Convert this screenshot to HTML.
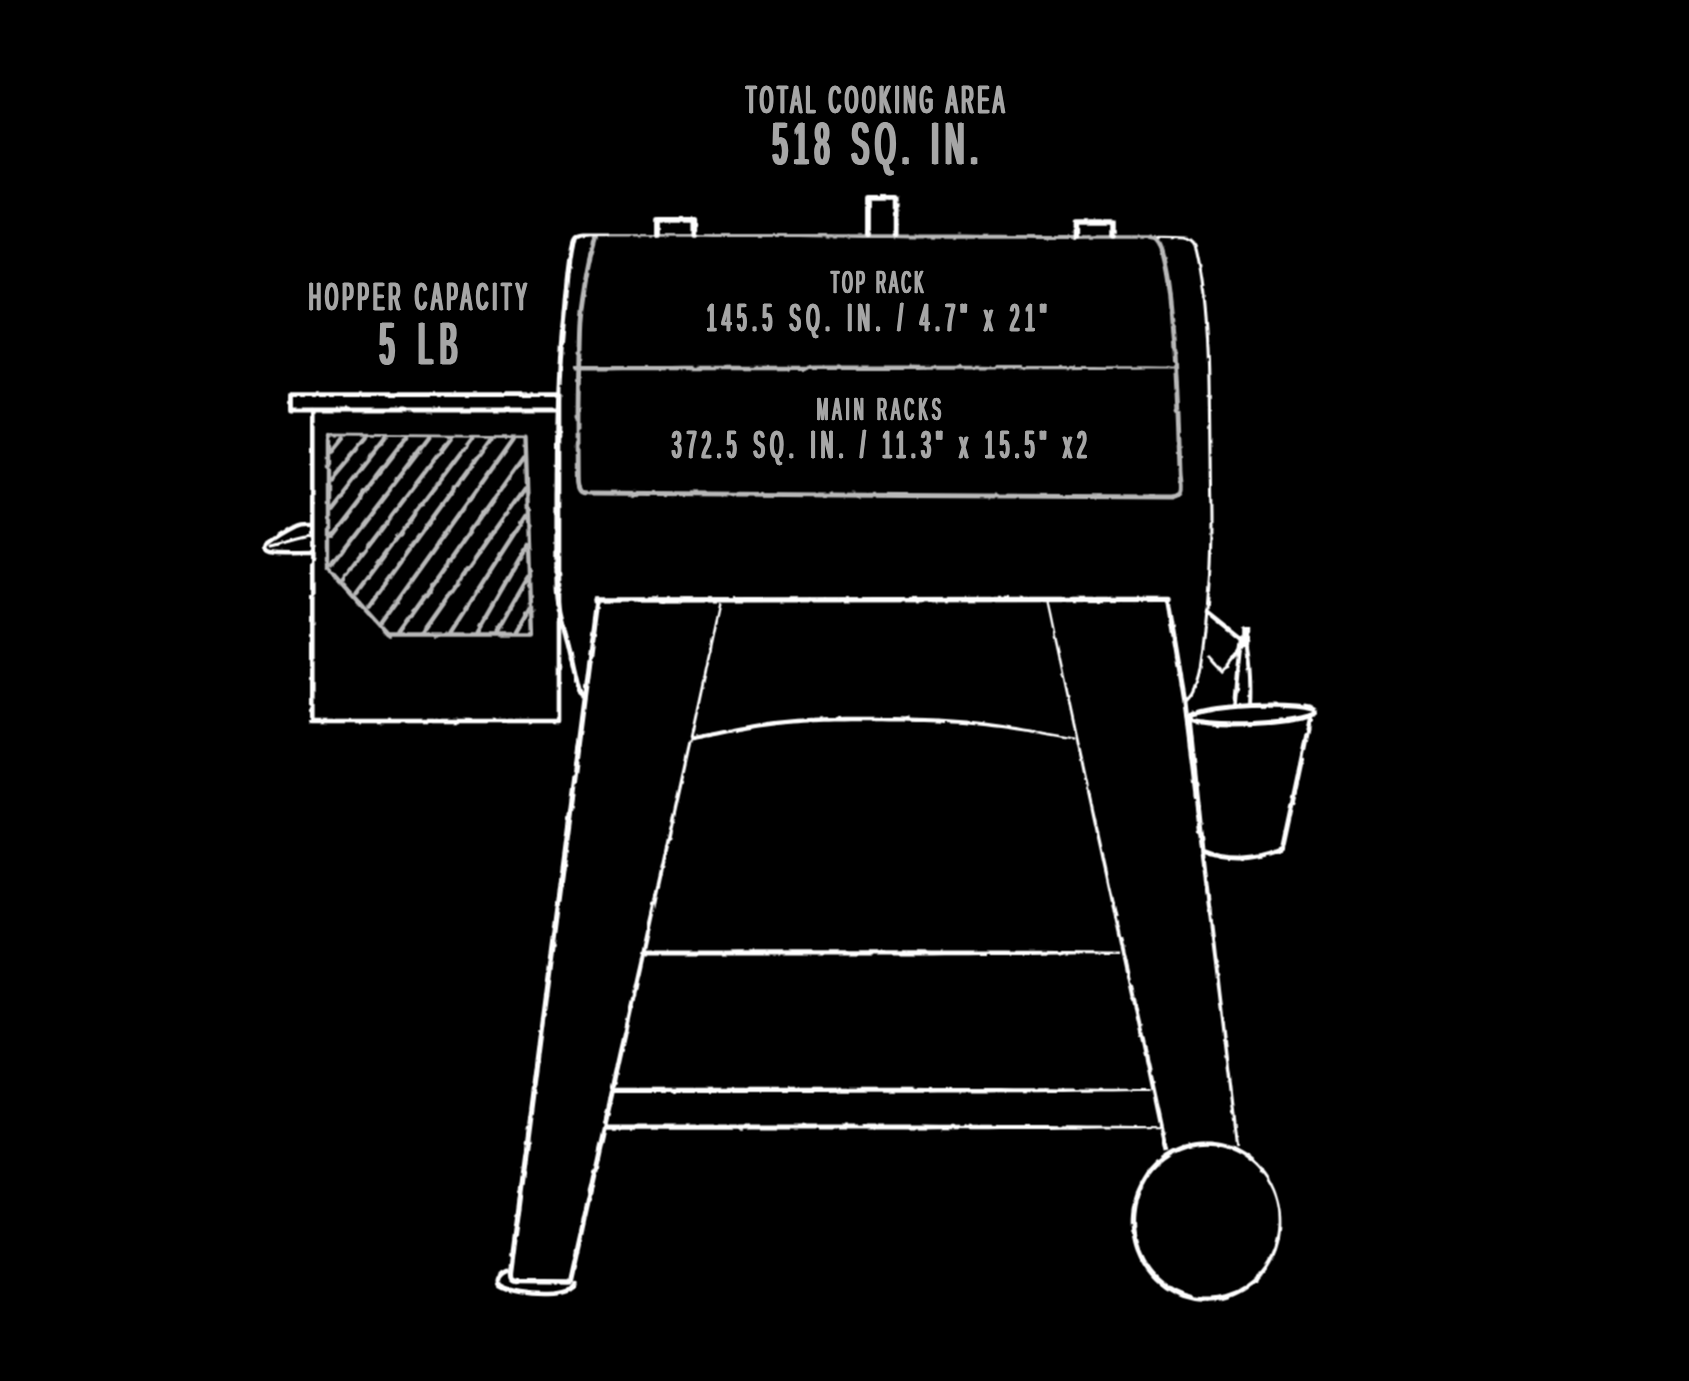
<!DOCTYPE html>
<html lang="en">
<head>
<meta charset="utf-8">
<title>Grill Dimensions</title>
<style>
html,body{margin:0;padding:0;background:#000;}
body{width:1689px;height:1381px;overflow:hidden;position:relative;}
svg{display:block;}
.t{position:absolute;white-space:nowrap;line-height:1;font-family:"Liberation Sans",sans-serif;font-weight:400;color:#a6a6a6;transform-origin:0 0;}
</style>
</head>
<body>
<svg width="1689" height="1381" viewBox="0 0 1689 1381">
<defs>
<filter id="rough" x="-2%" y="-2%" width="104%" height="104%" filterUnits="objectBoundingBox">
<feTurbulence type="fractalNoise" baseFrequency="0.05" numOctaves="2" seed="3" result="n1"/>
<feDisplacementMap in="SourceGraphic" in2="n1" scale="3.4" xChannelSelector="R" yChannelSelector="G" result="d1"/>
<feTurbulence type="fractalNoise" baseFrequency="0.14" numOctaves="1" seed="11" result="n2"/>
<feDisplacementMap in="d1" in2="n2" scale="2.6" xChannelSelector="G" yChannelSelector="R" result="d2"/>
<feConvolveMatrix in="d2" order="3" kernelMatrix="1 2 1 2 4 2 1 2 1" divisor="16" edgeMode="none" preserveAlpha="false"/>
</filter>
</defs>
<rect width="1689" height="1381" fill="#000"/>
<g fill="none" stroke-linecap="round" stroke-linejoin="round" filter="url(#rough)">
<!-- gray: cooking area outline -->
<g stroke="#b9b9b9">
<path fill="#b9b9b9" stroke="none" d="M606.0,236.5 L618.1,236.5 L630.2,236.6 L642.4,236.6 L654.5,236.7 L666.6,236.7 L678.7,236.7 L690.9,236.8 L703.0,236.8 L715.1,236.9 L727.2,236.9 L739.4,236.9 L751.5,237.0 L763.6,237.0 L775.7,237.1 L787.9,237.1 L800.0,237.1 L812.7,237.3 L825.4,237.4 L838.2,237.6 L850.9,237.7 L863.6,237.9 L876.4,238.0 L889.1,238.1 L901.8,238.3 L914.5,238.4 L927.3,238.6 L940.0,238.7 L952.0,238.7 L964.0,238.7 L976.0,238.8 L988.0,238.8 L1000.0,238.8 L1012.0,238.8 L1024.0,238.8 L1036.0,238.9 L1048.0,238.9 L1060.0,238.9 L1073.1,238.9 L1086.3,238.8 L1099.4,238.8 L1112.6,238.8 L1125.7,238.8 L1138.9,238.7 L1152.0,238.7 L1152.0,235.3 L1138.9,235.3 L1125.7,235.2 L1112.6,235.2 L1099.4,235.2 L1086.3,235.2 L1073.1,235.1 L1060.0,235.1 L1048.0,235.0 L1036.0,235.0 L1024.0,234.9 L1012.0,234.9 L1000.0,234.8 L988.0,234.7 L976.0,234.7 L964.0,234.6 L952.0,234.6 L940.0,234.5 L927.3,234.5 L914.6,234.4 L901.8,234.4 L889.1,234.3 L876.4,234.3 L863.6,234.3 L850.9,234.2 L838.2,234.2 L825.5,234.1 L812.7,234.1 L800.0,234.1 L787.9,234.0 L775.8,234.0 L763.6,234.0 L751.5,234.0 L739.4,234.0 L727.3,234.0 L715.1,234.0 L703.0,234.0 L690.9,234.0 L678.8,234.0 L666.6,233.9 L654.5,233.9 L642.4,233.9 L630.3,233.9 L618.1,233.9 L606.0,233.9 Z"/>
<path stroke-width="4.8" d="M1150.0,237.0 C1151.0,237.2 1154.2,236.8 1156.0,238.5 C1157.8,240.2 1159.1,241.0 1161.0,247.0 C1162.9,253.0 1165.8,265.0 1167.6,274.7 C1169.3,284.4 1170.4,294.1 1171.5,305.0 C1172.6,315.9 1173.6,329.7 1174.3,340.0 C1175.0,350.3 1175.2,357.0 1175.7,367.0 C1176.2,377.0 1176.9,391.5 1177.3,400.0 C1177.7,408.5 1177.8,406.3 1178.2,418.0 C1178.7,429.7 1179.5,458.7 1180.0,470.0 C1180.5,481.3 1181.3,482.1 1181.3,486.0 C1181.3,489.9 1181.5,491.7 1180.0,493.5 C1178.5,495.3 1173.3,496.4 1172.0,497.0 L900,495.5 L590,493  C588.7,492.8 583.9,493.0 582.0,491.5 C580.1,490.0 579.4,487.6 578.8,484.0 C578.2,480.4 578.4,480.7 578.3,470.0 C578.2,459.3 578.0,435.0 578.0,420.0 C578.0,405.0 578.2,396.3 578.5,380.0 C578.8,363.7 579.1,337.0 580.0,322.0 C580.9,307.0 582.5,300.0 584.0,290.0 C585.5,280.0 587.1,270.8 589.0,262.0 C590.9,253.2 594.4,241.5 595.5,237.4"/>
<path fill="#b9b9b9" stroke="none" d="M573.0,370.4 L585.3,370.4 L597.6,370.4 L609.8,370.4 L622.1,370.3 L634.4,370.3 L646.7,370.3 L659.0,370.3 L671.2,370.3 L683.5,370.3 L695.8,370.3 L708.1,370.2 L720.4,370.2 L732.6,370.2 L744.9,370.2 L757.2,370.2 L769.5,370.2 L781.8,370.2 L794.0,370.1 L806.3,370.1 L818.6,370.1 L830.9,370.1 L843.2,370.1 L855.4,370.1 L867.7,370.1 L880.0,370.0 L892.5,370.0 L905.0,369.9 L917.5,369.9 L930.0,369.8 L942.5,369.8 L955.0,369.7 L967.5,369.6 L980.0,369.6 L992.5,369.5 L1005.0,369.5 L1017.5,369.4 L1030.0,369.3 L1042.5,369.3 L1055.0,369.2 L1067.5,369.2 L1080.0,369.1 L1093.6,369.0 L1107.1,368.9 L1120.7,368.8 L1134.3,368.7 L1147.9,368.6 L1161.4,368.5 L1175.0,368.4 L1175.0,366.4 L1161.4,366.4 L1147.9,366.3 L1134.3,366.3 L1120.7,366.2 L1107.1,366.2 L1093.6,366.1 L1080.0,366.1 L1067.5,366.1 L1055.0,366.0 L1042.5,366.0 L1030.0,366.0 L1017.5,365.9 L1005.0,365.9 L992.5,365.9 L980.0,365.8 L967.5,365.8 L955.0,365.8 L942.5,365.7 L930.0,365.7 L917.5,365.7 L905.0,365.6 L892.5,365.6 L880.0,365.6 L867.7,365.6 L855.4,365.6 L843.2,365.6 L830.9,365.6 L818.6,365.6 L806.3,365.7 L794.0,365.7 L781.8,365.7 L769.5,365.7 L757.2,365.7 L744.9,365.7 L732.6,365.8 L720.4,365.8 L708.1,365.8 L695.8,365.8 L683.5,365.8 L671.2,365.9 L659.0,365.9 L646.7,365.9 L634.4,365.9 L622.1,365.9 L609.8,365.9 L597.6,366.0 L585.3,366.0 L573.0,366.0 Z"/>
<path stroke-width="2.8" d="M328,435 L525.5,436.8"/><path stroke-width="4.4" d="M525.5,436.8 L531.9,634.5 L387.7,634.5 L328,568.4 L328,435"/>
<path stroke-width="4.5" d="M330.4,451.3 L340.7,438.5 M331.2,478.4 L364.6,438.5 M330.4,507.8 L384.5,438.5 M331.2,534.9 L406.0,438.5 M331.9,565.2 L429.1,438.5 M343.1,579.5 L450.6,438.5 M355.8,593.1 L472.1,438.5 M368.6,606.6 L491.3,438.5 M382.1,622.5 L513.6,438.5 M399.7,632.1 L523.9,457.7 M423.5,632.1 L524.7,488.7 M450.6,632.1 L525.5,515.8 M476.9,632.1 L527.1,545.3 M496.8,632.1 L527.9,577.9 M515.9,632.1 L529.5,609.0 "/>
</g>
<g stroke="#ffffff">
<path stroke-width="4.8" d="M558,394.7 L290.5,394.7 L290.5,410 L558,410"/>
<path stroke-width="4.6" d="M312.3,410 L312.3,721 L559,721 L559,394"/>
<path stroke-width="4.4" d="M311,524 C304,523.5 300,524 296,526 C288,530 276,537 268,543 C264,546 264,550 270,552 C282,554 296,553 311,553"/>
<path stroke-width="3" d="M271,546 C284,543 298,538 311,535.5"/>
<path stroke-width="5.7" d="M657,235 L657,219.8 L694.3,219.8 L694.3,235"/>
<path stroke-width="5.8" d="M868,234 L868,197.8 L895.7,197.8 L895.7,234"/>
<path stroke-width="5.5" d="M1076.4,236 L1076.4,222 L1113,222 L1113,236"/>
<path stroke-width="3.1" d="M1158.0,237.3 C1160.8,237.4 1170.2,237.4 1175.0,237.6 C1179.8,237.8 1184.0,237.5 1187.0,238.2 C1190.0,238.9 1191.4,240.0 1193.0,242.0 C1194.6,244.0 1195.0,243.8 1196.5,250.0 C1198.0,256.2 1200.6,270.3 1202.0,279.5 C1203.4,288.7 1204.1,294.9 1205.0,305.0 C1205.9,315.1 1206.9,327.3 1207.6,340.0 C1208.3,352.7 1208.7,367.7 1209.0,381.0 C1209.3,394.3 1209.4,405.2 1209.6,420.0 C1209.8,434.8 1210.0,453.3 1210.2,470.0 C1210.4,486.7 1211.0,505.0 1211.0,520.0 C1211.0,535.0 1210.6,548.3 1210.2,560.0 C1209.8,571.7 1209.2,579.6 1208.5,590.0 C1207.8,600.4 1207.1,609.9 1205.8,622.6 C1204.5,635.3 1202.0,655.9 1200.4,666.0 C1198.8,676.1 1197.5,678.5 1196.0,683.0 C1194.5,687.5 1193.5,690.2 1191.7,693.2 C1189.9,696.2 1186.3,699.5 1185.2,700.8"/>
<path stroke-width="5.4" d="M596,600 L1169,599.4"/>
<path stroke-width="5.3" d="M598,600 L510.4,1274 C510.5,1279 512,1281 516,1281.5 L569,1282"/>
<path stroke-width="4.6" d="M506.5,1271 C499,1274 496,1280 499,1285 C508,1291 530,1294.5 548,1294 C562,1293.5 572,1290 574.5,1283"/>
<path stroke-width="4.6" d="M1206.9,611.7 L1240.6,638.9"/>
<path stroke-width="8" stroke-linecap="butt" d="M1245.2,626 L1245.2,647"/>
<path stroke-width="4.6" d="M1241,640 C1238,660 1236,685 1234.5,705"/>
<path stroke-width="4" d="M1247,648 C1250,665 1251,690 1250,705"/>
<path stroke-width="5" d="M1189.5,722 L1203,851 C1215,856 1230,858.5 1242,858 C1258,857 1272,853 1282.5,848 L1310,720"/>
<path fill="#fff" fill-rule="evenodd" stroke="none" d="M608.0,233.5 L607.3,233.5 L606.6,233.5 L605.6,233.5 L604.6,233.5 L603.4,233.5 L602.2,233.5 L600.9,233.5 L599.6,233.4 L598.3,233.4 L596.9,233.4 L595.6,233.4 L594.3,233.4 L593.1,233.4 L592.0,233.5 L590.9,233.5 L589.9,233.5 L589.1,233.5 L588.3,233.5 L587.5,233.5 L586.8,233.5 L586.0,233.5 L585.4,233.5 L584.7,233.5 L584.1,233.5 L583.5,233.5 L582.9,233.6 L582.3,233.6 L581.7,233.7 L581.1,233.8 L580.6,233.8 L580.0,234.0 L579.4,234.1 L578.9,234.2 L578.4,234.3 L577.9,234.5 L577.4,234.6 L576.9,234.8 L576.5,235.0 L576.0,235.2 L575.6,235.4 L575.2,235.7 L574.7,235.9 L574.3,236.2 L573.9,236.6 L573.5,236.9 L573.2,237.3 L572.8,237.6 L572.5,238.0 L572.2,238.5 L571.9,238.9 L571.6,239.4 L571.4,239.8 L571.1,240.3 L570.9,240.8 L570.8,241.3 L570.6,241.8 L570.4,242.3 L570.3,242.8 L570.1,243.4 L570.0,243.9 L569.8,244.5 L569.7,245.1 L569.5,245.7 L569.4,246.4 L569.2,247.2 L569.0,247.9 L568.9,248.7 L568.7,249.5 L568.6,250.4 L568.4,251.3 L568.3,252.2 L568.1,253.1 L567.9,254.1 L567.8,255.1 L567.6,256.1 L567.5,257.1 L567.3,258.2 L567.1,259.3 L567.0,260.5 L566.8,261.6 L566.7,262.8 L566.5,264.0 L566.4,265.1 L566.2,266.3 L566.1,267.4 L565.9,268.6 L565.8,269.9 L565.6,271.1 L565.5,272.5 L565.3,273.9 L565.2,275.4 L565.0,277.0 L564.8,278.7 L564.6,280.4 L564.4,282.4 L564.2,284.4 L564.0,286.7 L563.7,289.1 L563.5,291.6 L563.2,294.4 L562.9,297.2 L562.6,300.1 L562.4,303.1 L562.1,306.2 L561.8,309.3 L561.5,312.4 L561.2,315.4 L560.9,318.5 L560.6,321.5 L560.4,324.3 L560.1,327.1 L559.9,329.8 L559.7,332.3 L559.5,334.7 L559.3,337.0 L559.2,339.3 L559.0,341.4 L558.8,343.6 L558.7,345.7 L558.6,347.8 L558.4,350.0 L558.3,352.2 L558.2,354.4 L558.0,356.7 L557.9,359.1 L557.8,361.5 L557.6,364.1 L557.5,366.9 L557.4,369.7 L557.2,372.6 L557.1,375.4 L556.9,378.4 L556.8,381.4 L556.7,384.4 L556.5,387.5 L556.4,390.7 L556.3,394.0 L556.2,397.4 L556.0,400.8 L555.9,404.4 L555.8,408.1 L555.7,411.9 L555.6,415.9 L555.5,419.9 L555.4,424.2 L555.3,428.7 L555.2,433.3 L555.2,438.1 L555.1,443.0 L555.0,448.0 L554.9,453.1 L554.9,458.3 L554.8,463.5 L554.8,468.8 L554.7,474.1 L554.7,479.3 L554.6,484.6 L554.6,489.8 L554.5,494.9 L554.5,500.0 L554.5,505.1 L554.4,510.4 L554.4,515.8 L554.4,521.3 L554.4,526.8 L554.3,532.4 L554.3,537.9 L554.3,543.4 L554.3,548.7 L554.3,554.0 L554.3,559.0 L554.3,563.8 L554.4,568.4 L554.4,572.6 L554.4,576.5 L554.5,580.0 L554.6,583.2 L554.6,586.0 L554.7,588.5 L554.8,590.7 L554.9,592.6 L555.1,594.3 L555.2,595.9 L555.3,597.3 L555.5,598.5 L555.6,599.7 L555.8,600.8 L555.9,601.9 L556.1,602.9 L556.2,604.0 L556.4,605.1 L556.5,606.3 L556.7,607.6 L556.8,608.7 L557.0,609.8 L557.1,610.8 L557.3,611.7 L557.4,612.6 L557.6,613.4 L557.7,614.3 L557.9,615.1 L558.1,616.0 L558.3,616.8 L558.5,617.8 L558.7,618.7 L559.0,619.8 L559.3,620.9 L559.6,622.2 L559.9,623.5 L560.2,624.9 L560.6,626.3 L561.0,627.8 L561.4,629.3 L561.8,630.8 L562.3,632.4 L562.7,634.0 L563.2,635.6 L563.6,637.3 L564.1,639.1 L564.6,640.9 L565.1,642.7 L565.6,644.6 L566.1,646.6 L566.6,648.6 L567.1,650.7 L567.6,653.1 L568.2,655.6 L568.8,658.2 L569.5,660.9 L570.1,663.7 L570.7,666.6 L571.4,669.4 L572.0,672.2 L572.6,674.9 L573.2,677.5 L573.8,680.0 L574.3,682.3 L574.9,684.4 L575.3,686.3 L575.8,688.0 L576.2,689.3 L576.6,690.5 L576.9,691.5 L577.2,692.4 L577.5,693.1 L577.8,693.7 L578.1,694.2 L578.4,694.7 L578.8,695.2 L579.1,695.5 L579.4,695.8 L579.7,695.9 L579.8,696.1 L579.9,696.1 L580.0,696.2 L580.2,696.5 L580.6,696.9 L581.0,697.3 L581.5,697.7 L581.9,698.0 L582.3,698.3 L582.8,698.6 L583.2,698.9 L583.6,699.1 L584.0,699.3 L584.4,699.5 L584.8,699.7 L585.1,699.9 L585.3,700.0 L585.6,700.1 L585.7,700.2 L585.9,700.3 L588.1,696.7 L587.9,696.6 L587.6,696.4 L587.4,696.3 L587.1,696.1 L586.8,695.9 L586.5,695.7 L586.2,695.5 L585.9,695.4 L585.5,695.1 L585.2,694.9 L584.9,694.7 L584.7,694.5 L584.4,694.3 L584.2,694.0 L584.0,693.8 L583.8,693.5 L583.4,693.1 L583.1,692.8 L582.8,692.5 L582.5,692.3 L582.4,692.2 L582.3,692.1 L582.3,692.1 L582.3,692.1 L582.2,691.9 L582.1,691.7 L582.0,691.3 L581.8,690.7 L581.5,690.0 L581.3,689.1 L581.0,688.0 L580.6,686.6 L580.2,685.1 L579.7,683.2 L579.2,681.1 L578.7,678.8 L578.1,676.4 L577.5,673.8 L576.9,671.0 L576.2,668.3 L575.6,665.5 L575.0,662.6 L574.3,659.8 L573.7,657.1 L573.1,654.5 L572.5,651.9 L572.0,649.6 L571.4,647.4 L570.9,645.4 L570.4,643.4 L569.9,641.5 L569.4,639.6 L568.9,637.8 L568.4,636.0 L568.0,634.3 L567.5,632.7 L567.1,631.0 L566.6,629.5 L566.2,628.0 L565.8,626.5 L565.5,625.1 L565.1,623.7 L564.8,622.3 L564.4,621.0 L564.1,619.8 L563.9,618.6 L563.6,617.6 L563.4,616.6 L563.2,615.7 L563.0,614.9 L562.8,614.1 L562.6,613.3 L562.5,612.5 L562.3,611.7 L562.2,610.9 L562.1,610.0 L561.9,609.1 L561.8,608.0 L561.6,606.9 L561.5,605.7 L561.3,604.4 L561.2,603.3 L561.0,602.2 L560.9,601.1 L560.7,600.1 L560.6,599.1 L560.4,598.0 L560.3,596.8 L560.2,595.5 L560.1,594.0 L559.9,592.3 L559.8,590.4 L559.7,588.3 L559.6,585.8 L559.6,583.1 L559.5,580.0 L559.4,576.4 L559.4,572.6 L559.4,568.3 L559.3,563.8 L559.3,559.0 L559.3,554.0 L559.3,548.7 L559.3,543.4 L559.3,537.9 L559.3,532.4 L559.4,526.8 L559.4,521.3 L559.4,515.8 L559.4,510.4 L559.5,505.1 L559.5,500.0 L559.5,495.0 L559.6,489.8 L559.6,484.6 L559.7,479.4 L559.7,474.1 L559.8,468.8 L559.8,463.6 L559.9,458.3 L559.9,453.2 L560.0,448.1 L560.1,443.0 L560.2,438.1 L560.2,433.4 L560.3,428.8 L560.4,424.3 L560.5,420.1 L560.6,416.0 L560.7,412.0 L560.8,408.2 L560.9,404.6 L561.0,401.0 L561.2,397.5 L561.3,394.2 L561.4,390.9 L561.5,387.7 L561.7,384.6 L561.8,381.6 L561.9,378.6 L562.1,375.7 L562.2,372.8 L562.4,369.9 L562.5,367.1 L562.6,364.4 L562.8,361.8 L562.9,359.3 L563.1,357.0 L563.2,354.7 L563.4,352.5 L563.5,350.3 L563.6,348.2 L563.8,346.1 L564.0,344.0 L564.1,341.8 L564.3,339.7 L564.5,337.4 L564.7,335.1 L564.9,332.7 L565.1,330.2 L565.3,327.6 L565.6,324.8 L565.8,321.9 L566.1,319.0 L566.4,315.9 L566.7,312.9 L567.0,309.8 L567.3,306.7 L567.6,303.7 L568.0,300.7 L568.3,297.7 L568.5,294.9 L568.8,292.2 L569.1,289.6 L569.4,287.2 L569.6,285.0 L569.8,282.9 L570.0,281.0 L570.2,279.2 L570.4,277.5 L570.5,276.0 L570.7,274.5 L570.9,273.1 L571.0,271.8 L571.1,270.5 L571.3,269.3 L571.4,268.1 L571.6,266.9 L571.7,265.8 L571.9,264.7 L572.0,263.5 L572.2,262.4 L572.3,261.2 L572.5,260.1 L572.6,259.0 L572.8,257.9 L573.0,256.9 L573.1,255.9 L573.3,254.9 L573.4,254.0 L573.6,253.1 L573.7,252.2 L573.9,251.4 L574.0,250.5 L574.2,249.8 L574.3,249.0 L574.5,248.3 L574.6,247.6 L574.8,246.9 L574.9,246.3 L575.0,245.7 L575.1,245.1 L575.2,244.6 L575.3,244.1 L575.4,243.7 L575.5,243.3 L575.6,242.9 L575.7,242.6 L575.9,242.3 L576.0,242.0 L576.1,241.7 L576.2,241.5 L576.4,241.2 L576.5,241.0 L576.7,240.7 L576.9,240.5 L577.0,240.2 L577.2,240.0 L577.4,239.8 L577.6,239.6 L577.8,239.4 L578.0,239.3 L578.2,239.1 L578.5,238.9 L578.8,238.8 L579.1,238.6 L579.4,238.4 L579.7,238.3 L580.1,238.1 L580.6,237.9 L581.0,237.8 L581.4,237.7 L581.8,237.5 L582.3,237.4 L582.8,237.3 L583.3,237.2 L583.8,237.2 L584.4,237.1 L585.0,237.0 L585.6,236.9 L586.2,236.9 L586.9,236.8 L587.6,236.7 L588.4,236.7 L589.2,236.6 L590.1,236.5 L591.0,236.5 L592.0,236.4 L593.2,236.4 L594.4,236.3 L595.7,236.3 L597.0,236.3 L598.3,236.3 L599.6,236.2 L600.9,236.2 L602.2,236.2 L603.4,236.2 L604.6,236.2 L605.6,236.1 L606.6,236.1 L607.4,236.1 L608.0,236.1 Z"/>
<path fill="#fff" fill-rule="evenodd" stroke="none" d="M719.4,602.7 L716.7,615.0 L714.0,627.3 L711.3,639.5 L708.6,651.8 L705.8,664.1 L703.1,676.3 L700.4,688.6 L697.7,700.9 L695.0,713.1 L692.3,725.4 L689.5,737.7 L686.9,749.4 L684.2,761.2 L681.6,773.0 L679.0,784.8 L676.3,796.5 L673.7,808.3 L671.0,820.1 L668.4,831.8 L665.7,843.6 L663.1,855.4 L660.5,867.2 L657.8,878.9 L655.2,890.7 L652.5,902.5 L649.9,914.2 L647.2,926.0 L644.6,937.8 L642.0,949.5 L639.1,962.2 L636.2,974.9 L633.4,987.5 L630.5,1000.2 L627.6,1012.8 L624.8,1025.5 L621.9,1038.2 L619.0,1050.8 L616.2,1063.5 L613.3,1076.1 L610.4,1088.8 L607.6,1101.5 L604.9,1113.5 L602.3,1125.5 L599.6,1137.5 L596.9,1149.5 L594.3,1161.5 L591.6,1173.5 L589.0,1185.5 L586.3,1197.5 L583.7,1209.5 L581.0,1221.5 L578.4,1233.5 L575.7,1245.5 L573.1,1257.5 L570.4,1269.5 L567.8,1281.5 L572.6,1282.5 L575.3,1270.5 L577.9,1258.5 L580.6,1246.5 L583.3,1234.5 L585.9,1222.5 L588.6,1210.5 L591.2,1198.5 L593.9,1186.5 L596.5,1174.5 L599.2,1162.5 L601.8,1150.5 L604.5,1138.5 L607.1,1126.5 L609.8,1114.5 L612.4,1102.5 L615.2,1089.9 L618.0,1077.2 L620.8,1064.5 L623.6,1051.8 L626.4,1039.2 L629.2,1026.5 L632.0,1013.8 L634.8,1001.2 L637.6,988.5 L640.4,975.8 L643.2,963.1 L646.0,950.5 L648.6,938.7 L651.2,926.9 L653.8,915.1 L656.4,903.3 L658.9,891.5 L661.5,879.7 L664.1,868.0 L666.7,856.2 L669.3,844.4 L671.8,832.6 L674.4,820.8 L677.0,809.0 L679.6,797.2 L682.2,785.5 L684.7,773.7 L687.3,761.9 L689.9,750.1 L692.5,738.3 L695.1,726.0 L697.8,713.8 L700.5,701.5 L703.1,689.2 L705.8,676.9 L708.5,664.6 L711.1,652.4 L713.8,640.1 L716.4,627.8 L719.1,615.5 L721.8,603.3 Z"/>
<path fill="#fff" fill-rule="evenodd" stroke="none" d="M1046.4,602.3 L1049.0,614.1 L1051.5,626.0 L1054.0,637.9 L1056.6,649.7 L1059.1,661.6 L1061.7,673.5 L1064.2,685.3 L1066.8,697.2 L1069.3,709.1 L1071.8,721.0 L1074.4,732.8 L1076.9,744.7 L1079.5,756.6 L1082.0,768.4 L1084.5,780.3 L1087.1,792.2 L1089.7,804.1 L1092.2,815.9 L1094.8,827.8 L1097.4,839.7 L1100.0,851.6 L1102.5,863.4 L1105.1,875.3 L1107.7,887.2 L1110.2,899.1 L1112.8,910.9 L1115.4,922.8 L1118.0,934.7 L1120.5,946.5 L1123.1,958.4 L1125.7,970.5 L1128.3,982.6 L1130.9,994.6 L1133.5,1006.7 L1136.1,1018.8 L1138.7,1030.8 L1141.3,1042.9 L1143.9,1055.0 L1146.5,1067.0 L1149.1,1079.1 L1151.7,1091.2 L1154.3,1103.2 L1156.9,1115.3 L1159.5,1127.4 L1162.1,1139.4 L1164.7,1151.5 L1169.3,1150.5 L1166.7,1138.4 L1164.0,1126.4 L1161.4,1114.3 L1158.7,1102.3 L1156.1,1090.2 L1153.4,1078.2 L1150.8,1066.1 L1148.1,1054.0 L1145.5,1042.0 L1142.8,1029.9 L1140.2,1017.9 L1137.5,1005.8 L1134.9,993.8 L1132.2,981.7 L1129.6,969.6 L1126.9,957.6 L1124.3,945.7 L1121.6,933.9 L1119.0,922.0 L1116.4,910.1 L1113.8,898.3 L1111.1,886.4 L1108.5,874.6 L1105.9,862.7 L1103.2,850.8 L1100.6,839.0 L1098.0,827.1 L1095.4,815.3 L1092.7,803.4 L1090.1,791.5 L1087.5,779.7 L1084.9,767.8 L1082.3,756.0 L1079.7,744.1 L1077.1,732.2 L1074.6,720.4 L1072.0,708.5 L1069.4,696.6 L1066.8,684.8 L1064.3,672.9 L1061.7,661.1 L1059.1,649.2 L1056.5,637.3 L1053.9,625.5 L1051.4,613.6 L1048.8,601.7 Z"/>
<path fill="#fff" fill-rule="evenodd" stroke="none" d="M1165.1,599.8 L1167.3,612.4 L1169.4,625.0 L1171.5,637.6 L1173.7,650.1 L1175.8,662.7 L1178.0,675.3 L1180.1,687.8 L1182.2,700.4 L1183.8,713.3 L1185.3,726.3 L1186.9,739.3 L1188.4,752.3 L1190.0,765.3 L1191.5,778.3 L1193.1,791.3 L1194.6,804.3 L1196.2,817.3 L1197.7,830.3 L1199.3,842.8 L1200.8,855.3 L1202.3,867.8 L1203.9,880.3 L1205.4,892.8 L1206.9,905.2 L1208.5,917.7 L1210.0,930.2 L1211.5,942.7 L1213.1,955.2 L1214.6,967.7 L1216.1,980.2 L1217.7,992.7 L1219.2,1005.2 L1220.8,1018.1 L1222.3,1031.0 L1223.9,1043.9 L1225.4,1056.8 L1227.0,1069.7 L1228.5,1082.6 L1230.1,1095.6 L1231.6,1108.5 L1233.2,1121.4 L1234.8,1134.3 L1236.3,1147.2 L1239.3,1146.8 L1237.8,1133.9 L1236.3,1121.0 L1234.8,1108.1 L1233.3,1095.2 L1231.8,1082.3 L1230.3,1069.3 L1228.8,1056.4 L1227.3,1043.5 L1225.8,1030.6 L1224.3,1017.7 L1222.8,1004.8 L1221.3,992.3 L1219.9,979.8 L1218.4,967.3 L1216.9,954.8 L1215.5,942.3 L1214.0,929.8 L1212.5,917.3 L1211.1,904.8 L1209.6,892.2 L1208.1,879.7 L1206.7,867.2 L1205.2,854.7 L1203.7,842.2 L1202.3,829.7 L1200.8,816.7 L1199.3,803.7 L1197.8,790.7 L1196.2,777.7 L1194.7,764.7 L1193.2,751.7 L1191.7,738.7 L1190.2,725.7 L1188.7,712.7 L1187.2,699.6 L1185.1,687.0 L1182.9,674.4 L1180.8,661.9 L1178.7,649.3 L1176.6,636.7 L1174.5,624.1 L1172.4,611.5 L1170.3,599.0 Z"/>
<path fill="#fff" fill-rule="evenodd" stroke="none" d="M691.7,740.6 L694.7,740.0 L698.3,739.3 L702.5,738.5 L707.1,737.5 L712.2,736.5 L717.6,735.4 L723.3,734.3 L729.2,733.1 L735.3,731.9 L741.5,730.8 L747.7,729.6 L753.9,728.6 L760.0,727.6 L766.0,726.7 L771.8,725.9 L777.3,725.2 L782.6,724.6 L787.8,724.1 L793.0,723.6 L798.1,723.2 L803.2,722.8 L808.3,722.5 L813.4,722.3 L818.6,722.0 L823.8,721.8 L829.1,721.7 L834.4,721.5 L839.9,721.4 L845.4,721.4 L851.1,721.3 L857.0,721.3 L863.0,721.3 L869.2,721.3 L875.6,721.3 L882.2,721.3 L888.9,721.4 L895.7,721.4 L902.7,721.6 L909.7,721.7 L916.8,721.9 L923.9,722.1 L931.0,722.3 L938.0,722.6 L945.1,723.0 L952.1,723.4 L959.0,723.8 L965.8,724.3 L972.4,724.9 L979.2,725.5 L986.2,726.3 L993.4,727.2 L1000.7,728.1 L1008.1,729.1 L1015.5,730.2 L1022.8,731.3 L1030.0,732.5 L1037.0,733.6 L1043.7,734.7 L1050.0,735.8 L1055.9,736.7 L1061.3,737.7 L1066.2,738.5 L1070.5,739.1 L1074.0,739.7 L1074.4,737.5 L1070.8,736.9 L1066.6,736.2 L1061.8,735.3 L1056.3,734.3 L1050.4,733.2 L1044.1,732.1 L1037.4,730.9 L1030.5,729.6 L1023.3,728.4 L1016.0,727.1 L1008.6,725.9 L1001.2,724.8 L993.8,723.7 L986.6,722.7 L979.6,721.8 L972.8,721.1 L966.1,720.5 L959.3,719.9 L952.3,719.4 L945.3,719.0 L938.2,718.6 L931.1,718.2 L924.0,717.9 L916.9,717.7 L909.8,717.4 L902.8,717.2 L895.8,717.1 L889.0,717.0 L882.2,716.9 L875.6,716.8 L869.2,716.7 L863.0,716.7 L857.0,716.7 L851.1,716.8 L845.4,716.8 L839.8,716.9 L834.3,717.0 L828.9,717.1 L823.6,717.3 L818.4,717.5 L813.2,717.8 L808.1,718.1 L802.9,718.4 L797.8,718.8 L792.6,719.2 L787.4,719.7 L782.1,720.2 L776.7,720.8 L771.2,721.5 L765.4,722.4 L759.3,723.3 L753.2,724.3 L746.9,725.4 L740.7,726.6 L734.5,727.8 L728.4,729.0 L722.4,730.2 L716.7,731.4 L711.3,732.5 L706.3,733.5 L701.7,734.5 L697.5,735.3 L693.9,736.1 L690.9,736.6 Z"/>
<path fill="#fff" fill-rule="evenodd" stroke="none" d="M642.5,955.4 L654.6,955.4 L666.6,955.4 L678.7,955.4 L690.8,955.4 L702.9,955.4 L714.9,955.4 L727.0,955.4 L739.1,955.5 L751.1,955.5 L763.2,955.5 L775.3,955.5 L787.4,955.5 L799.4,955.5 L811.5,955.5 L823.6,955.5 L835.6,955.5 L847.7,955.5 L859.8,955.5 L871.9,955.5 L883.9,955.5 L896.0,955.5 L908.2,955.5 L920.4,955.4 L932.5,955.4 L944.7,955.3 L956.9,955.3 L969.1,955.2 L981.3,955.1 L993.5,955.1 L1005.6,955.0 L1017.8,955.0 L1030.0,954.9 L1042.9,954.8 L1055.7,954.6 L1068.6,954.5 L1081.4,954.3 L1094.3,954.2 L1107.1,954.0 L1120.0,953.9 L1120.0,951.5 L1107.1,951.4 L1094.3,951.3 L1081.4,951.2 L1068.6,951.0 L1055.7,950.9 L1042.9,950.8 L1030.0,950.7 L1017.8,950.7 L1005.6,950.6 L993.5,950.6 L981.3,950.5 L969.1,950.5 L956.9,950.5 L944.7,950.4 L932.5,950.4 L920.4,950.3 L908.2,950.3 L896.0,950.3 L883.9,950.3 L871.9,950.3 L859.8,950.3 L847.7,950.3 L835.6,950.3 L823.6,950.3 L811.5,950.3 L799.4,950.3 L787.4,950.3 L775.3,950.3 L763.2,950.3 L751.1,950.3 L739.1,950.3 L727.0,950.4 L714.9,950.4 L702.9,950.4 L690.8,950.4 L678.7,950.4 L666.6,950.4 L654.6,950.4 L642.5,950.4 Z"/>
<path fill="#fff" fill-rule="evenodd" stroke="none" d="M614.0,1093.0 L626.4,1093.0 L638.9,1093.0 L651.3,1093.0 L663.7,1093.0 L676.2,1093.0 L688.6,1092.9 L701.0,1092.9 L713.5,1092.9 L725.9,1092.9 L738.3,1092.9 L750.8,1092.9 L763.2,1092.9 L775.7,1092.9 L788.1,1092.9 L800.5,1092.9 L813.0,1092.9 L825.4,1092.9 L837.8,1092.8 L850.3,1092.8 L862.7,1092.8 L875.1,1092.8 L887.6,1092.8 L900.0,1092.8 L912.5,1092.7 L925.0,1092.7 L937.5,1092.6 L950.0,1092.6 L962.5,1092.5 L975.0,1092.4 L987.5,1092.4 L1000.0,1092.3 L1012.5,1092.3 L1025.0,1092.2 L1037.5,1092.2 L1050.0,1092.1 L1062.6,1092.0 L1075.1,1091.8 L1087.7,1091.7 L1100.3,1091.5 L1112.8,1091.4 L1125.4,1091.3 L1137.9,1091.1 L1150.5,1091.0 L1150.5,1089.0 L1137.9,1088.9 L1125.4,1088.8 L1112.8,1088.7 L1100.2,1088.7 L1087.7,1088.6 L1075.1,1088.5 L1062.6,1088.4 L1050.0,1088.3 L1037.5,1088.3 L1025.0,1088.2 L1012.5,1088.2 L1000.0,1088.1 L987.5,1088.1 L975.0,1088.1 L962.5,1088.0 L950.0,1088.0 L937.5,1087.9 L925.0,1087.9 L912.5,1087.8 L900.0,1087.8 L887.6,1087.8 L875.1,1087.8 L862.7,1087.8 L850.3,1087.8 L837.8,1087.8 L825.4,1087.8 L813.0,1087.8 L800.5,1087.8 L788.1,1087.8 L775.7,1087.8 L763.2,1087.8 L750.8,1087.8 L738.3,1087.8 L725.9,1087.8 L713.5,1087.8 L701.0,1087.8 L688.6,1087.8 L676.2,1087.8 L663.7,1087.8 L651.3,1087.8 L638.9,1087.8 L626.4,1087.8 L614.0,1087.8 Z"/>
<path fill="#fff" fill-rule="evenodd" stroke="none" d="M605.5,1129.8 L617.8,1129.8 L630.0,1129.8 L642.3,1129.8 L654.6,1129.7 L666.9,1129.7 L679.1,1129.7 L691.4,1129.7 L703.7,1129.7 L715.9,1129.7 L728.2,1129.7 L740.5,1129.7 L752.8,1129.6 L765.0,1129.6 L777.3,1129.6 L789.6,1129.6 L801.8,1129.6 L814.1,1129.6 L826.4,1129.6 L838.6,1129.6 L850.9,1129.5 L863.2,1129.5 L875.5,1129.5 L887.7,1129.5 L900.0,1129.5 L912.5,1129.5 L925.0,1129.4 L937.5,1129.3 L950.0,1129.3 L962.5,1129.2 L975.0,1129.2 L987.5,1129.2 L1000.0,1129.1 L1012.5,1129.0 L1025.0,1129.0 L1037.5,1129.0 L1050.0,1128.9 L1062.2,1128.8 L1074.4,1128.7 L1086.7,1128.7 L1098.9,1128.6 L1111.1,1128.5 L1123.3,1128.4 L1135.6,1128.4 L1147.8,1128.3 L1160.0,1128.2 L1160.0,1126.2 L1147.8,1126.1 L1135.6,1126.0 L1123.3,1125.8 L1111.1,1125.7 L1098.9,1125.6 L1086.7,1125.5 L1074.4,1125.3 L1062.2,1125.2 L1050.0,1125.1 L1037.5,1125.0 L1025.0,1125.0 L1012.5,1125.0 L1000.0,1124.9 L987.5,1124.8 L975.0,1124.8 L962.5,1124.8 L950.0,1124.7 L937.5,1124.7 L925.0,1124.6 L912.5,1124.5 L900.0,1124.5 L887.7,1124.5 L875.5,1124.5 L863.2,1124.5 L850.9,1124.5 L838.6,1124.5 L826.4,1124.5 L814.1,1124.5 L801.8,1124.5 L789.6,1124.5 L777.3,1124.5 L765.0,1124.5 L752.7,1124.6 L740.5,1124.6 L728.2,1124.6 L715.9,1124.6 L703.7,1124.6 L691.4,1124.6 L679.1,1124.6 L666.9,1124.6 L654.6,1124.6 L642.3,1124.6 L630.0,1124.6 L617.8,1124.6 L605.5,1124.6 Z"/>
<path fill="#fff" fill-rule="evenodd" stroke="none" d="M1206.5,656.1 L1213.7,664.4 L1222.2,673.2 L1230.5,663.9 L1237.6,655.2 L1242.2,649.3 L1246.8,643.3 L1243.2,640.7 L1238.8,646.7 L1234.4,652.8 L1227.6,661.6 L1222.0,669.8 L1215.9,662.3 L1208.5,654.3 Z"/>
<path fill="#fff" fill-rule="evenodd" stroke="none" d="M1281.4,1221.4 L1281.4,1225.5 L1281.1,1229.7 L1280.6,1233.8 L1280.0,1237.9 L1279.1,1242.0 L1278.0,1246.0 L1276.8,1249.9 L1275.3,1253.8 L1273.6,1257.5 L1271.8,1261.2 L1269.8,1264.8 L1267.6,1268.3 L1265.2,1271.6 L1262.7,1274.8 L1260.0,1277.9 L1257.1,1280.8 L1254.2,1283.5 L1251.1,1286.1 L1247.8,1288.5 L1244.5,1290.7 L1241.0,1292.7 L1237.5,1294.6 L1233.8,1296.2 L1230.1,1297.7 L1226.3,1298.9 L1222.5,1299.9 L1218.6,1300.7 L1214.6,1301.3 L1210.7,1301.6 L1206.7,1301.8 L1202.7,1301.7 L1198.8,1301.4 L1194.8,1300.9 L1190.9,1300.1 L1187.0,1299.1 L1183.2,1297.9 L1179.5,1296.5 L1175.8,1294.9 L1172.2,1293.1 L1168.7,1291.1 L1165.3,1288.9 L1162.1,1286.5 L1158.9,1283.9 L1155.9,1281.2 L1153.0,1278.3 L1150.3,1275.2 L1147.7,1272.0 L1145.3,1268.7 L1143.0,1265.2 L1140.9,1261.6 L1139.0,1257.9 L1137.3,1254.1 L1135.7,1250.2 L1134.4,1246.3 L1133.3,1242.2 L1132.4,1238.1 L1131.6,1234.0 L1131.1,1229.8 L1130.8,1225.6 L1130.7,1221.4 L1130.8,1217.2 L1131.1,1213.0 L1131.6,1208.8 L1132.4,1204.7 L1133.3,1200.6 L1134.4,1196.5 L1135.7,1192.6 L1137.3,1188.7 L1139.0,1184.9 L1140.9,1181.2 L1143.0,1177.6 L1145.2,1174.1 L1147.6,1170.7 L1150.2,1167.5 L1153.0,1164.5 L1155.8,1161.6 L1158.9,1158.9 L1162.1,1156.3 L1165.3,1153.9 L1168.8,1151.8 L1172.3,1149.8 L1175.9,1148.0 L1179.5,1146.4 L1183.3,1145.1 L1187.1,1143.9 L1191.0,1143.0 L1194.9,1142.2 L1198.8,1141.7 L1202.7,1141.4 L1206.7,1141.4 L1210.7,1141.5 L1214.6,1141.9 L1218.5,1142.5 L1222.4,1143.3 L1226.2,1144.3 L1230.0,1145.5 L1233.7,1146.9 L1237.3,1148.6 L1240.8,1150.4 L1244.3,1152.4 L1247.6,1154.6 L1250.8,1157.0 L1253.9,1159.6 L1256.9,1162.3 L1259.7,1165.2 L1262.4,1168.3 L1264.9,1171.5 L1267.2,1174.8 L1269.4,1178.2 L1271.4,1181.8 L1273.2,1185.5 L1274.9,1189.2 L1276.3,1193.1 L1277.5,1197.0 L1278.6,1201.0 L1279.6,1205.0 L1280.3,1209.0 L1280.9,1213.1 L1281.3,1217.3 L1281.4,1221.4 Z M1278.6,1221.4 L1278.5,1217.4 L1278.3,1213.4 L1277.9,1209.4 L1277.2,1205.5 L1276.4,1201.5 L1275.3,1197.7 L1274.0,1194.0 L1272.5,1190.3 L1270.8,1186.7 L1269.0,1183.2 L1266.9,1179.8 L1264.8,1176.6 L1262.5,1173.4 L1260.0,1170.4 L1257.4,1167.6 L1254.6,1164.8 L1251.7,1162.3 L1248.7,1159.9 L1245.6,1157.7 L1242.4,1155.6 L1239.1,1153.8 L1235.7,1152.1 L1232.3,1150.6 L1228.7,1149.3 L1225.1,1148.2 L1221.5,1147.3 L1217.8,1146.7 L1214.1,1146.2 L1210.4,1145.9 L1206.7,1145.8 L1203.0,1146.0 L1199.3,1146.3 L1195.6,1146.9 L1192.0,1147.6 L1188.4,1148.6 L1184.8,1149.7 L1181.3,1151.1 L1177.9,1152.6 L1174.6,1154.4 L1171.3,1156.3 L1168.2,1158.4 L1165.2,1160.6 L1162.2,1163.0 L1159.5,1165.6 L1156.8,1168.3 L1154.2,1171.1 L1151.8,1174.1 L1149.6,1177.3 L1147.5,1180.5 L1145.6,1183.9 L1143.8,1187.3 L1142.2,1190.9 L1140.8,1194.5 L1139.6,1198.2 L1138.5,1202.0 L1137.6,1205.8 L1137.0,1209.7 L1136.5,1213.5 L1136.2,1217.5 L1136.1,1221.4 L1136.2,1225.3 L1136.5,1229.3 L1137.0,1233.1 L1137.6,1237.0 L1138.5,1240.8 L1139.6,1244.6 L1140.8,1248.3 L1142.2,1251.9 L1143.8,1255.5 L1145.5,1259.0 L1147.4,1262.3 L1149.5,1265.6 L1151.8,1268.7 L1154.2,1271.7 L1156.7,1274.5 L1159.4,1277.2 L1162.2,1279.8 L1165.2,1282.2 L1168.2,1284.4 L1171.4,1286.5 L1174.6,1288.4 L1178.0,1290.1 L1181.4,1291.6 L1184.9,1292.9 L1188.4,1294.0 L1192.0,1294.9 L1195.6,1295.6 L1199.3,1296.1 L1203.0,1296.5 L1206.7,1296.6 L1210.4,1296.5 L1214.1,1296.3 L1217.8,1295.8 L1221.4,1295.1 L1225.0,1294.2 L1228.6,1293.1 L1232.1,1291.8 L1235.6,1290.4 L1238.9,1288.7 L1242.2,1286.8 L1245.4,1284.8 L1248.5,1282.6 L1251.5,1280.2 L1254.3,1277.7 L1257.1,1275.0 L1259.7,1272.1 L1262.1,1269.1 L1264.4,1266.0 L1266.6,1262.7 L1268.6,1259.4 L1270.4,1255.9 L1272.0,1252.3 L1273.5,1248.7 L1274.8,1244.9 L1275.9,1241.1 L1276.8,1237.2 L1277.6,1233.3 L1278.1,1229.4 L1278.4,1225.4 L1278.6,1221.4 Z"/>
<ellipse cx="1252.3" cy="714.5" rx="63" ry="9" stroke-width="5.2" transform="rotate(-2.5 1252.3 714.5)"/>
</g>
</g>
</svg>
<div class="t" style="left:745.70px;top:79.57px;font-size:39.16px;letter-spacing:9.56px;word-spacing:2.97px;transform:scaleX(0.43);-webkit-text-stroke:0.80px #a6a6a6;text-shadow:2.96px 0 0 #a6a6a6,1.48px 0 0 #a6a6a6,-1.48px 0 0 #a6a6a6,-2.96px 0 0 #a6a6a6">TOTAL COOKING AREA</div>
<div class="t" style="left:773.20px;top:114.31px;font-size:59.97px;letter-spacing:15.37px;word-spacing:4.55px;transform:scaleX(0.43);-webkit-text-stroke:1.22px #a6a6a6;text-shadow:4.53px 0 0 #a6a6a6,2.27px 0 0 #a6a6a6,-2.27px 0 0 #a6a6a6,-4.53px 0 0 #a6a6a6">518 SQ. IN.</div>
<div class="t" style="left:308.60px;top:278.16px;font-size:38.19px;letter-spacing:10.26px;word-spacing:2.90px;transform:scaleX(0.43);-webkit-text-stroke:0.78px #a6a6a6;text-shadow:2.89px 0 0 #a6a6a6,1.44px 0 0 #a6a6a6,-1.44px 0 0 #a6a6a6,-2.89px 0 0 #a6a6a6">HOPPER CAPACITY</div>
<div class="t" style="left:380.00px;top:313.62px;font-size:59.42px;letter-spacing:17.62px;word-spacing:4.51px;transform:scaleX(0.43);-webkit-text-stroke:1.21px #a6a6a6;text-shadow:4.49px 0 0 #a6a6a6,2.25px 0 0 #a6a6a6,-2.25px 0 0 #a6a6a6,-4.49px 0 0 #a6a6a6">5 LB</div>
<div class="t" style="left:830.60px;top:267.82px;font-size:30.88px;letter-spacing:7.93px;word-spacing:2.34px;transform:scaleX(0.43);-webkit-text-stroke:0.63px #a6a6a6;text-shadow:2.33px 0 0 #a6a6a6,1.17px 0 0 #a6a6a6,-1.17px 0 0 #a6a6a6,-2.33px 0 0 #a6a6a6">TOP RACK</div>
<div class="t" style="left:707.40px;top:299.18px;font-size:38.60px;letter-spacing:13.62px;word-spacing:2.93px;transform:scaleX(0.43);-webkit-text-stroke:0.78px #a6a6a6;text-shadow:2.92px 0 0 #a6a6a6,1.46px 0 0 #a6a6a6,-1.46px 0 0 #a6a6a6,-2.92px 0 0 #a6a6a6">145.5 SQ. IN. / 4.7&quot; x 21&quot;</div>
<div class="t" style="left:817.00px;top:395.05px;font-size:30.75px;letter-spacing:10.46px;word-spacing:2.33px;transform:scaleX(0.43);-webkit-text-stroke:0.62px #a6a6a6;text-shadow:2.32px 0 0 #a6a6a6,1.16px 0 0 #a6a6a6,-1.16px 0 0 #a6a6a6,-2.32px 0 0 #a6a6a6">MAIN RACKS</div>
<div class="t" style="left:672.40px;top:426.25px;font-size:38.74px;letter-spacing:13.17px;word-spacing:2.94px;transform:scaleX(0.43);-webkit-text-stroke:0.79px #a6a6a6;text-shadow:2.93px 0 0 #a6a6a6,1.46px 0 0 #a6a6a6,-1.46px 0 0 #a6a6a6,-2.93px 0 0 #a6a6a6">372.5 SQ. IN. / 11.3&quot; x 15.5&quot; x2</div>
</body>
</html>
